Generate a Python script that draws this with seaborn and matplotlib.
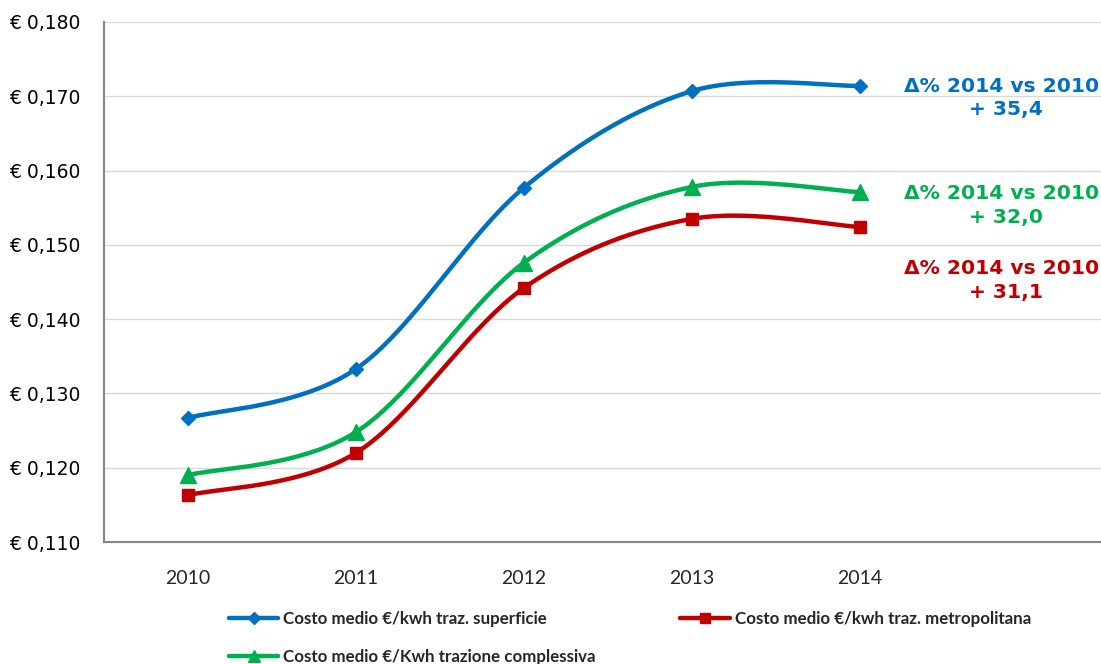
import numpy as np
import pandas as pd
import matplotlib
matplotlib.use("Agg")
import matplotlib.pyplot as plt
from matplotlib.lines import Line2D
import seaborn as sns

years = ["2010", "2011", "2012", "2013", "2014"]
superficie = [0.1267, 0.1333, 0.1577, 0.1707, 0.1714]
metropolitana = [0.1163, 0.1220, 0.1442, 0.1535, 0.1524]
complessiva = [0.1190, 0.1248, 0.1476, 0.1578, 0.1571]
labels = ["Costo medio €/kwh traz. superficie",
          "Costo medio €/kwh traz. metropolitana",
          "Costo medio €/Kwh trazione complessiva"]
deltas = ["+ 35,4", "+ 31,1", "+ 32,0"]
yticks = [0.110, 0.120, 0.130, 0.140, 0.150, 0.160, 0.170, 0.180]

colors = ["#0070C0", "#C00000", "#00B050"]
markers = ["D", "s", "^"]
msizes = [7.5, 9, 11]

sns.set_theme(style="white")
plt.rcParams['font.family'] = ['DejaVu Sans']

fig = plt.figure(figsize=(11.01, 6.64), dpi=100)
ax = fig.add_axes([104/1101, 1-542/664, 997/1101, 520/664])


def smooth(y, n=40):
    # Excel-like smoothed line (Catmull-Rom Bezier)
    x = np.arange(len(y), dtype=float)
    y = np.asarray(y, float)
    P = np.column_stack([x, y])
    out = []
    for i in range(len(P) - 1):
        p0 = P[i - 1] if i > 0 else P[i]
        p1 = P[i]
        p2 = P[i + 1]
        p3 = P[i + 2] if i + 2 < len(P) else P[i + 1]
        c1 = p1 + (p2 - p0) / 6
        c2 = p2 - (p3 - p1) / 6
        t = np.linspace(0, 1, n)[:, None]
        seg = ((1 - t) ** 3) * p1 + 3 * ((1 - t) ** 2) * t * c1 + 3 * (1 - t) * t ** 2 * c2 + t ** 3 * p2
        out.append(seg if i == 0 else seg[1:])
    s = np.vstack(out)
    return s[:, 0], s[:, 1]


series = [superficie, metropolitana, complessiva]
handles = []
for vals, c, m, ms, lab in zip(series, colors, markers, msizes, labels):
    sx, sy = smooth(vals)
    sns.lineplot(x=sx, y=sy, ax=ax, color=c, lw=3.2, sort=False, estimator=None)
    df = pd.DataFrame({"x": np.arange(len(years)), "y": vals})
    ax.plot(df["x"], df["y"], ls="none", marker=m, ms=ms, color=c, mec=c, zorder=5)
    handles.append(Line2D([0], [0], color=c, lw=3.2, marker=m, ms=ms * 0.85, mec=c))

ax.set_xlim(-0.5, 5.435)
ax.set_ylim(0.110, 0.180)
ax.set_yticks(yticks)
ax.set_yticklabels([("€ %.3f" % v).replace(".", ",") for v in yticks],
                   fontsize=13.5, color="#000000")
ax.set_xticks(range(len(years)))
ax.set_xticklabels(years, fontsize=14, family=["Lato", "DejaVu Sans"])
ax.set_xticks(np.arange(-0.5, 5.5, 1.0), minor=True)
ax.tick_params(axis="x", which="major", length=0, pad=20)
ax.tick_params(axis="x", which="minor", length=6, color="#868686", width=1)
ax.tick_params(axis="y", which="major", length=6, color="#868686", width=1, direction="out", pad=11)
ax.yaxis.grid(True, color="#D9D9D9", lw=1)
ax.xaxis.grid(False)
for s in ["top", "right"]:
    ax.spines[s].set_visible(False)
for s in ["left", "bottom"]:
    ax.spines[s].set_color("#868686")
    ax.spines[s].set_linewidth(1.5)

# annotations (clipped at the right edge, as in the reference)
ann = [(86, 110, colors[0], deltas[0]), (193, 218, colors[2], deltas[2]), (268, 293, colors[1], deltas[1])]
for y1, y2, c, d in ann:
    fig.text(1006/1101, 1 - y1/664, "Δ% 2014 vs 2010:", ha="center", va="center",
             fontsize=14.6, fontweight="bold", color=c)
    fig.text(1006/1101, 1 - y2/664, d, ha="center", va="center",
             fontsize=14.6, fontweight="bold", color=c)

leg_h = [handles[0], handles[2], handles[1]]
leg_l = [labels[0], labels[2], labels[1]]
fig.legend(leg_h, leg_l, loc="upper left", bbox_to_anchor=(229/1101, 1 - 611/664),
           ncol=2, frameon=False, prop={"family": ["Lato", "DejaVu Sans"], "weight": "bold", "size": 12.2},
           handlelength=2.9, handletextpad=0.3, columnspacing=5.0, labelspacing=1.3,
           borderaxespad=0, borderpad=0)

fig.savefig("out.png", dpi=100)
